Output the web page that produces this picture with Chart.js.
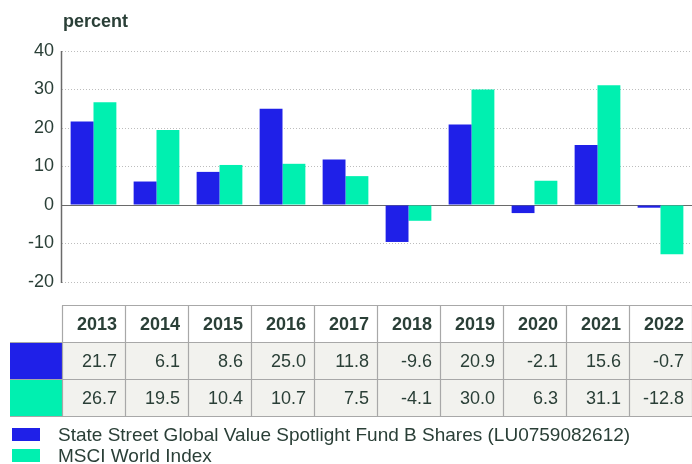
<!DOCTYPE html>
<html>
<head>
<meta charset="utf-8">
<script src="https://cdn.jsdelivr.net/npm/chart.js@4/dist/chart.umd.min.js"></script>
<style>
  html, body { margin: 0; padding: 0; background: #fff; }
  #wrap { width: 692px; height: 464px; }
</style>
</head>
<body>
<div id="wrap"><canvas id="chart" width="692" height="464"></canvas></div>
<script>
const years = ['2013', '2014', '2015', '2016', '2017', '2018', '2019', '2020', '2021', '2022'];
const fundValues = [21.7, 6.1, 8.6, 25.0, 11.8, -9.6, 20.9, -2.1, 15.6, -0.7];
const indexValues = [26.7, 19.5, 10.4, 10.7, 7.5, -4.1, 30.0, 6.3, 31.1, -12.8];
const seriesNames = ['State Street Global Value Spotlight Fund B Shares (LU0759082612)', 'MSCI World Index'];
const yTicks = [-20, -10, 0, 10, 20, 30, 40];
const unitLabel = 'percent';

const BLUE = '#1f20e8';
const GREEN = '#00f0b0';
const TEXT = '#2a3f37';
const FONT = '"Liberation Sans", Arial, sans-serif';

// draws the axis line, zero line, the data table under the plot, the legend and the unit label
const tablePlugin = {
  id: 'tablePlugin',
  beforeDatasetsDraw(chart) {
    const {ctx, chartArea, scales} = chart;
    const y0 = Math.round(scales.y.getPixelForValue(0)) + 0.5;
    ctx.save();
    ctx.strokeStyle = '#6a6a6a';
    ctx.lineWidth = 1;
    ctx.beginPath();
    ctx.moveTo(chartArea.left, y0);
    ctx.lineTo(chartArea.right, y0);
    ctx.stroke();
    ctx.lineWidth = 1.5;
    ctx.beginPath();
    ctx.moveTo(chartArea.left - 0.5, chartArea.top);
    ctx.lineTo(chartArea.left - 0.5, chartArea.bottom + 1);
    ctx.stroke();
    ctx.restore();
  },
  afterDraw(chart) {
    const {ctx, chartArea, scales} = chart;
    const x = scales.x;
    const colW = (chartArea.right - chartArea.left) / years.length;
    const top = 305.5;
    const rowH = 37;
    const rows = [fundValues, indexValues];
    const colors = [BLUE, GREEN];

    ctx.save();
    // data row backgrounds
    ctx.fillStyle = '#f2f2ee';
    ctx.fillRect(chartArea.left, top + rowH, chartArea.right - chartArea.left, rowH * 2);
    // swatches
    rows.forEach((r, k) => {
      ctx.fillStyle = colors[k];
      ctx.fillRect(10, top + rowH * (k + 1), chartArea.left - 10, rowH);
    });

    // grid lines
    ctx.strokeStyle = '#a8a8a8';
    ctx.lineWidth = 1.2;
    ctx.beginPath();
    for (let r = 0; r <= 3; r++) {
      const yy = top + rowH * r;
      ctx.moveTo(r === 0 ? chartArea.left : 10, yy);
      ctx.lineTo(chartArea.right, yy);
    }
    for (let i = 0; i <= years.length; i++) {
      const xx = Math.round(chartArea.left + colW * i) + 0.5;
      ctx.moveTo(xx, top);
      ctx.lineTo(xx, top + rowH * 3);
    }
    ctx.stroke();

    // texts
    ctx.fillStyle = TEXT;
    ctx.textAlign = 'right';
    ctx.textBaseline = 'middle';
    years.forEach((yr, i) => {
      const right = x.getPixelForValue(i) + colW / 2 - 8;
      ctx.font = 'bold 18px ' + FONT;
      ctx.fillText(yr, right, top + rowH / 2 + 1);
      ctx.font = '18px ' + FONT;
      rows.forEach((r, k) => {
        ctx.fillText(r[i].toFixed(1), right, top + rowH * (k + 1.5) + 1);
      });
    });

    // legend
    ctx.textAlign = 'left';
    ctx.font = '19px ' + FONT;
    seriesNames.forEach((name, k) => {
      const yy = 434.5 + k * 21;
      ctx.fillStyle = colors[k];
      ctx.fillRect(12, yy - 6.5, 28, 13);
      ctx.fillStyle = TEXT;
      ctx.fillText(name, 58, yy + 1);
    });

    // unit label
    ctx.font = 'bold 18px ' + FONT;
    ctx.textBaseline = 'alphabetic';
    ctx.fillText(unitLabel, 63, 27);
    ctx.restore();
  }
};

new Chart(document.getElementById('chart'), {
  type: 'bar',
  data: {
    labels: years,
    datasets: [
      {label: seriesNames[0], data: fundValues, backgroundColor: BLUE, borderWidth: 0},
      {label: seriesNames[1], data: indexValues, backgroundColor: GREEN, borderWidth: 0}
    ]
  },
  options: {
    responsive: false,
    animation: false,
    layout: {padding: {top: 51, left: 0, right: -5, bottom: 182}},
    categoryPercentage: 0.726,
    barPercentage: 1,
    plugins: {legend: {display: false}, tooltip: {enabled: false}},
    scales: {
      x: {display: false},
      y: {
        min: -20,
        max: 40,
        afterFit: s => { s.width = 62; },
        afterBuildTicks: s => { s.ticks = yTicks.map(v => ({value: v})); },
        border: {display: false, dash: [1, 2]},
        grid: {color: '#bdbdbd', lineWidth: 1, drawTicks: false},
        ticks: {color: TEXT, font: {family: FONT, size: 18}, padding: 8}
      }
    }
  },
  plugins: [tablePlugin]
});
</script>
</body>
</html>
